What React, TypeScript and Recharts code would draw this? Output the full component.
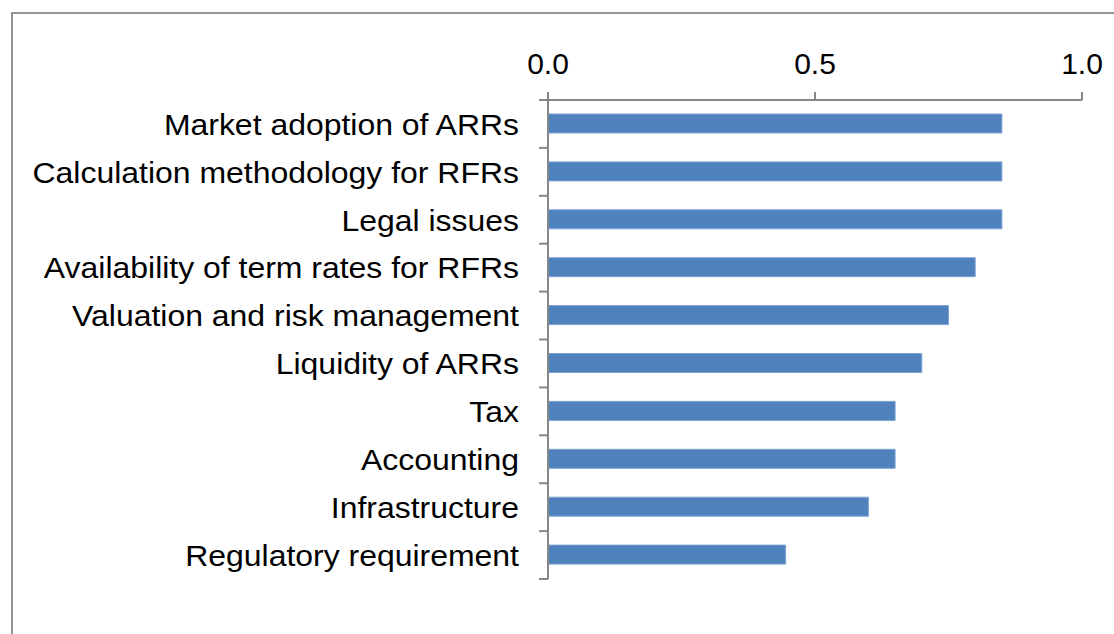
import React from "react";
import { Bar, BarChart, XAxis, YAxis } from "recharts";

const categories = [
  "Market adoption of ARRs",
  "Calculation methodology for RFRs",
  "Legal issues",
  "Availability of term rates for RFRs",
  "Valuation and risk management",
  "Liquidity of ARRs",
  "Tax",
  "Accounting",
  "Infrastructure",
  "Regulatory requirement",
];
const values = [0.85, 0.85, 0.85, 0.8, 0.75, 0.7, 0.65, 0.65, 0.6, 0.445];
const xTicks = [0, 0.5, 1];

const data = categories.map((name, i) => ({ name, value: values[i] }));

const axisGrey = "#878787";
const font = "'Liberation Sans', Arial, sans-serif";
const labelGap = 29;

// category label plus a boundary tick between bands (Excel style)
const CategoryTick = (props: any) => {
  const { x, y, payload, index, visibleTicksCount } = props;
  const half = payload.offset ?? 0;
  const axisX = x + labelGap;
  const last = index === (visibleTicksCount ?? categories.length) - 1;
  return (
    <g>
      <line
        x1={axisX - 9}
        x2={axisX}
        y1={y - half}
        y2={y - half}
        stroke={axisGrey}
        strokeWidth={2}
      />
      {last && (
        <line
          x1={axisX - 9}
          x2={axisX}
          y1={y + half}
          y2={y + half}
          stroke={axisGrey}
          strokeWidth={2}
        />
      )}
      <g transform={`translate(${x},${y})`}>
        <text
          transform="scale(1.065,1)"
          textAnchor="end"
          dy="0.36em"
          fill="#000"
          fontSize={30}
          fontFamily={font}
        >
          {payload.value}
        </text>
      </g>
    </g>
  );
};

const App: React.FC = () => {
  return (
    <div
      style={{
        position: "absolute",
        left: 0,
        top: 0,
        width: 1114,
        height: 634,
        overflow: "hidden",
        background: "#fff",
        fontFamily: font,
      }}
    >
      <div
        style={{
          position: "absolute",
          left: 11,
          top: 12,
          width: 1200,
          height: 700,
          border: "2px solid #959595",
        }}
      />
      <div style={{ position: "absolute", left: 0, top: 0 }}>
        <BarChart
          width={1114}
          height={634}
          data={data}
          layout="vertical"
          margin={{ top: 40, right: 32, bottom: 55, left: 0 }}
        >
          <XAxis
            type="number"
            orientation="top"
            domain={[0, 1]}
            ticks={xTicks}
            height={60}
            tickFormatter={(v: number) => v.toFixed(1)}
            tick={{ fill: "#000", fontSize: 30, fontFamily: font }}
            tickSize={8}
            tickMargin={18}
            axisLine={{ stroke: axisGrey, strokeWidth: 2 }}
            tickLine={{ stroke: axisGrey, strokeWidth: 2 }}
          />
          <YAxis
            type="category"
            dataKey="name"
            width={548}
            interval={0}
            tickSize={0}
            tickMargin={labelGap}
            tickLine={false}
            tick={<CategoryTick />}
            axisLine={{ stroke: axisGrey, strokeWidth: 2 }}
          />
          <Bar
            dataKey="value"
            fill="#4f81bd"
            stroke="#7ea3d2"
            strokeWidth={1}
            barSize={19}
            isAnimationActive={false}
          />
        </BarChart>
      </div>
    </div>
  );
};

export default App;
